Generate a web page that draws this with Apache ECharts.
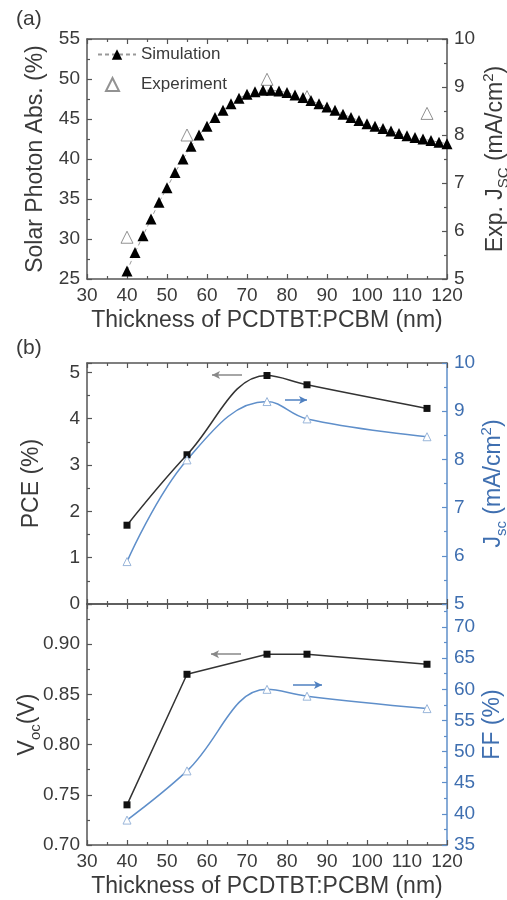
<!DOCTYPE html>
<html>
<head>
<meta charset="utf-8">
<script src="https://cdn.jsdelivr.net/npm/echarts@6/dist/echarts.min.js"></script>
<style>
html,body{margin:0;padding:0;background:#fff;}
#chart{width:507px;height:900px;}
</style>
</head>
<body>
<div id="chart"></div>
<script>
// ---- Data ----
const simThickness = [40,42,44,46,48,50,52,54,56,58,60,62,64,66,68,70,72,74,76,78,80,82,84,86,88,90,92,94,96,98,100,102,104,106,108,110,112,114,116,118,120];
const simAbs = [26.0,28.3,30.4,32.5,34.6,36.4,38.3,40.0,41.6,43.0,44.1,45.2,46.1,46.9,47.6,48.1,48.4,48.6,48.6,48.5,48.3,48.0,47.7,47.3,46.9,46.5,46.1,45.6,45.2,44.8,44.4,44.1,43.8,43.5,43.2,42.9,42.7,42.5,42.3,42.1,41.9];
const expThickness = [40,55,75,85,115];
const expJsc = [5.87,8.0,9.16,8.80,8.45];
const devThickness = [40,55,75,85,115];
const pce = [1.70,3.22,4.93,4.73,4.22];
const jsc = [5.88,7.99,9.20,8.84,8.47];
const voc = [0.74,0.87,0.89,0.89,0.88];
const ff = [39.0,46.9,60.0,58.9,56.9];
const xTicks = {min:30, max:120, interval:10};

// ---- Styles ----
const FONT = 'Liberation Sans, Arial, sans-serif';
const DARK = '#3a3a3a';
const AXIS = '#555';
const BLUE = '#3f6fb0';
const BLUELINE = '#5f8fca';
const pair = (xs, ys) => xs.map((x,i)=>[x, ys[i]]);

function xAx(grid, pos, labels, name){
  return {
    type:'value', gridIndex:grid, position:pos, min:xTicks.min, max:xTicks.max, interval:xTicks.interval,
    axisLine:{show:true, onZero:false, lineStyle:{color:AXIS, width:1.5}},
    axisTick:{show:true, inside:true, length:5, lineStyle:{color:AXIS, width:1.2}},
    minorTick:{show:true, splitNumber:2, length:3, lineStyle:{color:AXIS, width:1.2}},
    axisLabel:{show:labels, color:DARK, fontSize:19, margin:7, fontFamily:FONT},
    splitLine:{show:false},
    name: name || '', nameLocation:'middle', nameGap:30, nameMoveOverlap:false,
    nameTextStyle:{fontSize:23, color:DARK, fontFamily:FONT}
  };
}
function yAx(grid, pos, min, max, interval, color, lineColor, name, gap, extra){
  const o = {
    type:'value', gridIndex:grid, position:pos, min:min, max:max, interval:interval,
    axisLine:{show:true, onZero:false, lineStyle:{color:lineColor, width:1.5}},
    axisTick:{show:true, inside:true, length:5, lineStyle:{color:lineColor, width:1.2}},
    minorTick:{show:true, splitNumber:2, length:3, lineStyle:{color:lineColor, width:1.2}},
    axisLabel:{show:true, color:color, fontSize:19, margin:7, fontFamily:FONT},
    splitLine:{show:false},
    name:name, nameLocation:'middle', nameGap:gap, nameRotate:90, nameMoveOverlap:false,
    nameTextStyle:{fontSize:23, color:color, fontFamily:FONT,
      rich:{
        m:{fontSize:23, lineHeight:30, color:color, fontFamily:FONT},
        s:{fontSize:15, verticalAlign:'bottom', color:color, fontFamily:FONT},
        p:{fontSize:15, verticalAlign:'top', color:color, fontFamily:FONT}
      }}
  };
  return Object.assign(o, extra || {});
}

const chart = echarts.init(document.getElementById('chart'), null, {renderer:'canvas'});
const option = {
  backgroundColor:'#fff',
  animation:false,
  textStyle:{fontFamily:FONT},
  grid:[
    {left:87, top:39, width:360, height:240, outerBoundsMode:'none', containLabel:false},
    {left:87, top:363, width:360, height:241, outerBoundsMode:'none', containLabel:false},
    {left:87, top:604, width:360, height:241, outerBoundsMode:'none', containLabel:false}
  ],
  graphic:[
    {type:'text', left:16, top:9, style:{text:'(a)', fontSize:21, fill:DARK, fontFamily:FONT}},
    {type:'text', left:16, top:338, style:{text:'(b)', fontSize:21, fill:DARK, fontFamily:FONT}}
  ],
  legend:[
    {
      show:true, orient:'vertical', left:92, top:41, itemWidth:38, itemHeight:13,
      textStyle:{fontSize:17, color:DARK, fontFamily:FONT},
      data:['Simulation']
    },
    {
      show:true, orient:'vertical', left:100, top:71, itemWidth:13, itemHeight:13,
      textStyle:{fontSize:17, color:DARK, fontFamily:FONT, rich:{g:{width:17}, t:{fontSize:17, color:DARK, fontFamily:FONT}}},
      formatter: name => '{g|}{t|' + name + '}',
      data:['Experiment']
    }
  ],
  xAxis:[
    xAx(0,'bottom',true,'Thickness of PCDTBT:PCBM (nm)'),
    xAx(0,'top',false),
    xAx(1,'bottom',false),
    xAx(1,'top',false),
    xAx(2,'bottom',true,'Thickness of PCDTBT:PCBM (nm)'),
    xAx(2,'top',false)
  ],
  yAxis:[
    yAx(0,'left',25,55,5,DARK,AXIS,'Solar Photon Abs. (%)',40),
    yAx(0,'right',5,10,1,DARK,AXIS,'{m|Exp. J}{s|SC}{m| (mA/cm}{p|2}{m|)}',34),
    yAx(1,'left',0,5.2,1,DARK,AXIS,'PCE (%)',44,{}),
    yAx(1,'right',5,10,1,BLUE,BLUELINE,'{m|J}{s|sc}{m| (mA/cm}{p|2}{m|)}',32),
    yAx(2,'left',0.70,0.94,0.05,DARK,AXIS,'{m|V}{s|oc}{m|(V)}',44),
    yAx(2,'right',35,73.7,5,BLUE,BLUELINE,'FF (%)',34)
  ],
  series:[
    {
      name:'Simulation', type:'line', xAxisIndex:0, yAxisIndex:0,
      data:pair(simThickness, simAbs),
      symbol:'triangle', symbolSize:11, showAllSymbol:true,
      itemStyle:{color:'#000'},
      lineStyle:{color:'#999', width:1, type:[4,3]}
    },
    {
      name:'Experiment', type:'scatter', xAxisIndex:0, yAxisIndex:1,
      data:pair(expThickness, expJsc),
      symbol:'triangle', symbolSize:12,
      itemStyle:{color:'#fff', borderColor:'#777', borderWidth:1}
    },
    {
      name:'PCE', type:'line', xAxisIndex:2, yAxisIndex:2,
      data:pair(devThickness, pce), smooth:0.4,
      symbol:'rect', symbolSize:7, itemStyle:{color:'#111'},
      lineStyle:{color:'#333', width:1.5},
      markLine:{silent:true, symbol:['none','arrow'], symbolSize:[6,8], label:{show:false},
        lineStyle:{color:'#888', width:1.5, type:'solid'},
        data:[[{coord:[68.75,4.94]},{coord:[61.25,4.94]}]]}
    },
    {
      name:'Jsc', type:'line', xAxisIndex:2, yAxisIndex:3,
      data:pair(devThickness, jsc), smooth:0.4,
      symbol:'triangle', symbolSize:8, itemStyle:{color:'#fff', borderColor:'#9ab6da', borderWidth:1},
      lineStyle:{color:BLUELINE, width:1.5},
      markLine:{silent:true, symbol:['none','arrow'], symbolSize:[6,8], label:{show:false},
        lineStyle:{color:'#4f80c0', width:1.5, type:'solid'},
        data:[[{coord:[79.5,9.23]},{coord:[85,9.23]}]]}
    },
    {
      name:'Voc', type:'line', xAxisIndex:4, yAxisIndex:4,
      data:pair(devThickness, voc),
      symbol:'rect', symbolSize:7, itemStyle:{color:'#111'},
      lineStyle:{color:'#333', width:1.5},
      markLine:{silent:true, symbol:['none','arrow'], symbolSize:[6,8], label:{show:false},
        lineStyle:{color:'#888', width:1.5, type:'solid'},
        data:[[{coord:[68.5,0.890]},{coord:[61,0.890]}]]}
    },
    {
      name:'FF', type:'line', xAxisIndex:4, yAxisIndex:5,
      data:pair(devThickness, ff), smooth:0.4,
      symbol:'triangle', symbolSize:8, itemStyle:{color:'#fff', borderColor:'#9ab6da', borderWidth:1},
      lineStyle:{color:BLUELINE, width:1.5},
      markLine:{silent:true, symbol:['none','arrow'], symbolSize:[6,8], label:{show:false},
        lineStyle:{color:'#4f80c0', width:1.5, type:'solid'},
        data:[[{coord:[81.5,60.7]},{coord:[88.75,60.7]}]]}
    }
  ]
};
// hide extent-max labels on axes whose max is not a tick value
option.yAxis[2].axisLabel.showMaxLabel = false;
option.yAxis[4].axisLabel.showMaxLabel = false;
option.yAxis[4].axisLabel.formatter = v => v.toFixed(2);
option.yAxis[5].axisLabel.showMaxLabel = false;
chart.setOption(option);
</script>
</body>
</html>
